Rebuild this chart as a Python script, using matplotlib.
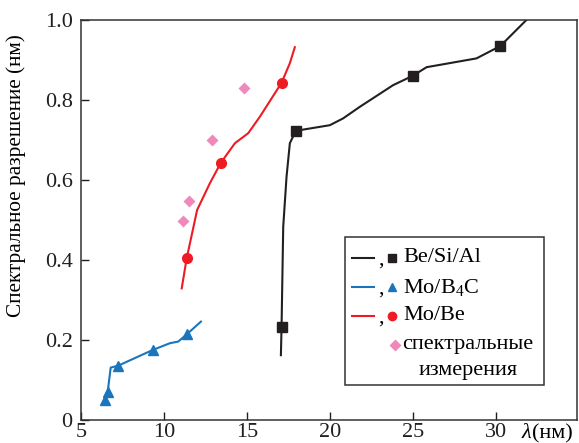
import matplotlib
matplotlib.use("Agg")
from matplotlib import pyplot as plt
from matplotlib.lines import Line2D
from matplotlib.patches import Rectangle

plt.rcParams['font.family'] = ['Liberation Serif', 'DejaVu Serif']
plt.rcParams['mathtext.fontset'] = 'custom'
plt.rcParams['mathtext.rm'] = 'Liberation Serif'
plt.rcParams['mathtext.it'] = 'Liberation Serif:italic'

# Be/Si/Al curve and its markers
besial_x = [17.05, 17.09, 17.19, 17.39, 17.59, 17.95, 20.0, 20.8, 21.81, 23.81, 25.02, 25.83, 28.84, 30.28, 31.85]
besial_y = [0.162, 0.233, 0.483, 0.608, 0.692, 0.723, 0.737, 0.754, 0.783, 0.837, 0.861, 0.882, 0.904, 0.935, 1.0]
besial_mx = [17.09, 17.95, 25.02, 30.28]
besial_my = [0.233, 0.723, 0.861, 0.935]

# Mo/B4C
mob4c_x = [6.45, 6.61, 6.79, 7.25, 9.32, 10.36, 10.86, 11.37, 12.23]
mob4c_y = [0.05, 0.071, 0.131, 0.136, 0.175, 0.192, 0.196, 0.214, 0.246]
mob4c_mx = [6.45, 6.61, 7.25, 9.32, 11.37]
mob4c_my = [0.05, 0.071, 0.136, 0.175, 0.214]

# Mo/Be
mobe_x = [11.07, 11.37, 12.0, 12.77, 13.43, 14.28, 15.08, 15.78, 17.09, 17.59, 17.89]
mobe_y = [0.329, 0.404, 0.525, 0.592, 0.643, 0.692, 0.717, 0.758, 0.843, 0.892, 0.932]
mobe_mx = [11.37, 13.43, 17.09]
mobe_my = [0.404, 0.643, 0.843]

# spectral measurements
meas_x = [11.16, 11.51, 12.87, 14.84]
meas_y = [0.498, 0.548, 0.70, 0.829]

c_black = '#231f20'
c_blue = '#1a75bc'
c_red = '#ed1c24'
c_pink = '#f088bb'
fs = 16

fig = plt.figure(figsize=(5.79, 4.43), dpi=100)
ax = fig.add_axes([81/579, 1 - 420/443, 496/579, 400/443])

ax.plot(besial_x, besial_y, color=c_black, lw=1.5)
ax.plot(besial_mx, besial_my, 's', color=c_black, ms=6.5, ls='none')
ax.plot(mob4c_x, mob4c_y, color=c_blue, lw=1.5)
ax.plot(mob4c_mx, mob4c_my, '^', color=c_blue, ms=7, ls='none')
ax.plot(mobe_x, mobe_y, color=c_red, lw=1.5)
ax.plot(mobe_mx, mobe_my, 'o', color=c_red, ms=7, ls='none')
ax.plot(meas_x, meas_y, 'D', color=c_pink, ms=6.5, ls='none', mec='none')

ax.set_xlim(5, 34.9)
ax.set_ylim(0, 1.0)
ax.set_xticks([5, 10, 15, 20, 25, 30])
ax.set_yticks([0, 0.2, 0.4, 0.6, 0.8, 1.0])
ax.set_yticklabels(['0', '0.2', '0.4', '0.6', '0.8', '1.0'])
ax.tick_params(direction='in', length=6, width=1, labelsize=fs, colors=c_black)
ax.tick_params(axis='y', pad=6)
ax.tick_params(axis='x', pad=2.5)
for s in ax.spines.values():
    s.set_color('#333333')
    s.set_linewidth(1.1)
ax.set_ylabel('Спектральное разрешение (нм)', fontsize=15.3)
ax.yaxis.set_label_coords(-0.11, 0.61)

# hand-made legend and axis name, positions given in reference pixels
def fx(px):
    return (px - 81) / 496
def fy(py):
    return (420 - py) / 400

ax.text(fx(522), fy(424), 'λ', transform=ax.transAxes, ha='left', va='top',
        fontsize=fs, fontstyle='italic')
ax.text(fx(532), fy(424), '(нм)', transform=ax.transAxes, ha='left', va='top', fontsize=fs)

ax.add_patch(Rectangle((fx(345), fy(385)), fx(544) - fx(345), fy(237) - fy(385),
                       transform=ax.transAxes, fill=False, ec='#333333', lw=1.1, zorder=5))
rows = [
    (258, c_black, 's', 'Be/Si/Al'),
    (287, c_blue, '^', 'Mo/B$_\\mathrm{4}$C'),
    (316, c_red, 'o', 'Mo/Be'),
]
for py, col, mk, lab in rows:
    ax.add_line(Line2D([fx(352), fx(374)], [fy(py), fy(py)], color=col, lw=1.5, transform=ax.transAxes))
    ax.text(fx(378), fy(py) - 0.005, ',', transform=ax.transAxes, ha='left', va='center', fontsize=fs)
    ax.add_line(Line2D([fx(392)], [fy(py)], marker=mk, color=col, ms=6, transform=ax.transAxes))
    ax.text(fx(403), fy(py), lab, transform=ax.transAxes, ha='left', va='center', fontsize=fs)
ax.add_line(Line2D([fx(395)], [fy(345)], marker='D', color=c_pink, mec='none', ms=6, transform=ax.transAxes))
ax.text(fx(402), fy(345), 'спектральные', transform=ax.transAxes, ha='left', va='center', fontsize=fs)
ax.text(fx(419), fy(370), 'измерения', transform=ax.transAxes, ha='left', va='center', fontsize=fs)

fig.savefig('out.png', dpi=100)
